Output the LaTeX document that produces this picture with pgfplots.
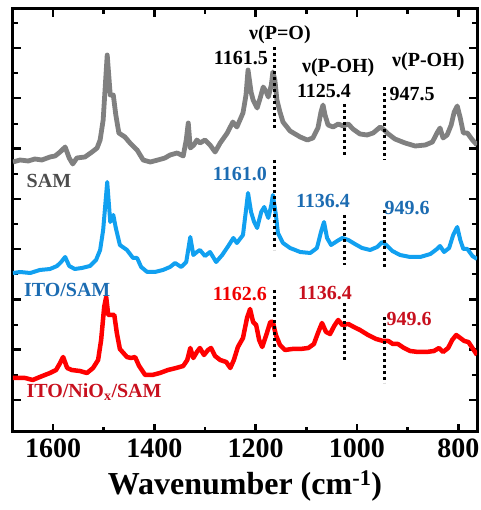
\documentclass[border=0pt]{standalone}
\usepackage{fontspec}
\setmainfont{Liberation Serif}
\usepackage{pgfplots}
\pgfplotsset{compat=1.18}

\definecolor{samgray}{RGB}{128,128,128}
\definecolor{itoblue}{RGB}{17,160,240}
\definecolor{nired}{RGB}{255,0,0}
\definecolor{samtext}{RGB}{77,77,77}
\definecolor{bluetext}{RGB}{28,108,178}
\definecolor{redtext}{RGB}{240,0,0}
\definecolor{darkred}{RGB}{200,16,30}

\begin{document}
\begin{tikzpicture}
% annotation fonts
\newcommand\lab{\fontsize{20}{24}\selectfont\bfseries}
\begin{axis}[
    at={(0,0)}, anchor=south west,
    scale only axis,
    width=464pt, height=423pt,
    x dir=reverse,
    xmin=763, xmax=1679,
    ymin=0, ymax=423,
    xtick={800,1000,...,1600},
    minor xtick={900,1100,1300,1500},
    ytick={32,82.3,...,400},
    minor ytick={57,107,158,208,258,308,359,409},
    yticklabels={},
    xtick pos=both, ytick pos=both,
    tick align=inside,
    major tick length=8pt, minor tick length=5pt,
    every tick/.style={black, line width=2.5pt},
    axis line style={line width=3pt},
    tick label style={font=\fontsize{28}{32}\selectfont\bfseries},
    xticklabel style={yshift=-3pt},
    /pgf/number format/assume math mode=true,
    /pgf/number format/1000 sep={},
    xlabel={Wavenumber (cm\textsuperscript{-1})},
    xlabel style={font=\fontsize{32}{36}\selectfont\bfseries, yshift=-6pt},
    no markers,
]
% SAM
\addplot[samgray, line width=4.8pt, line join=round] coordinates {
(1679,270) (1665,272) (1649,271) (1636,273) (1622,272) (1606,275) (1596,276)
(1586,280) (1576,285) (1568,274) (1561,268) (1553,274) (1537,275) (1523,280)
(1513,284) (1507,292) (1501,312) (1493,377) (1487,337) (1481,337) (1476,317)
(1470,299) (1458,295) (1448,289) (1434,282) (1422,272) (1408,270) (1393,272)
(1379,274) (1369,277) (1355,279) (1343,276) (1337,292) (1333,309) (1329,284)
(1322,287) (1316,292) (1310,289) (1300,292) (1290,287) (1280,280) (1270,289)
(1256,299) (1245,310) (1237,305) (1225,319) (1219,337) (1215,362) (1209,340)
(1205,332) (1197,324) (1191,334) (1185,345) (1179,340) (1175,335) (1169,347)
(1166,360) (1162,352) (1158,332) (1152,320) (1146,310) (1132,301) (1112,295)
(1098,292) (1087,294) (1077,304) (1071,320) (1067,327) (1063,317) (1057,307)
(1047,305) (1037,308) (1027,306) (1017,308) (1008,303) (994,298) (980,297)
(968,299) (954,305) (946,302) (938,298) (925,293) (905,289) (885,286)
(865,287) (851,290) (842,299) (836,304) (830,294) (822,297) (814,307)
(808,320) (802,326) (796,314) (790,299) (782,299) (772,292) (763,287)
};
% ITO/SAM
\addplot[itoblue, line width=4pt, line join=round] coordinates {
(1679,159) (1665,160) (1645,159) (1626,162) (1606,163) (1592,166) (1584,170)
(1576,175) (1568,166) (1557,163) (1543,164) (1527,166) (1515,172) (1507,182)
(1501,202) (1493,250) (1487,210) (1481,217) (1476,204) (1468,187) (1454,182)
(1442,174) (1434,174) (1426,165) (1414,160) (1399,160) (1383,162) (1369,165)
(1359,169) (1347,165) (1337,170) (1329,195) (1323,177) (1316,180) (1310,182)
(1300,176) (1290,180) (1278,170) (1266,177) (1254,186) (1244,194) (1237,189)
(1225,197) (1219,222) (1215,239) (1209,220) (1203,210) (1197,204) (1189,220)
(1183,225) (1175,214) (1169,227) (1166,237) (1160,217) (1156,199) (1146,189)
(1132,184) (1112,180) (1092,179) (1079,184) (1071,200) (1065,210) (1059,194)
(1051,187) (1039,191) (1029,194) (1017,192) (1004,188) (990,184) (974,182)
(960,185) (950,190) (942,187) (930,181) (915,177) (895,175) (875,175)
(855,178) (842,183) (836,186) (828,180) (818,184) (810,197) (802,205)
(796,192) (790,183) (782,183) (772,176) (763,173)
};
% ITO/NiOx/SAM
\addplot[nired, line width=4.5pt, line join=round] coordinates {
(1679,54) (1655,54) (1640,52) (1626,55) (1606,59) (1594,62) (1586,69)
(1580,75) (1572,64) (1563,62) (1547,61) (1533,59) (1521,64) (1511,72)
(1505,92) (1499,125) (1495,135) (1491,117) (1485,117) (1479,117) (1474,99)
(1468,83) (1454,75) (1446,74) (1438,75) (1430,66) (1418,57) (1404,57)
(1389,59) (1373,62) (1357,64) (1343,66) (1335,72) (1329,84) (1323,74)
(1316,80) (1310,84) (1302,77) (1294,82) (1288,84) (1280,76) (1270,72)
(1258,70) (1250,64) (1243,72) (1235,85) (1225,94) (1217,114) (1211,123)
(1205,110) (1199,107) (1193,92) (1187,85) (1179,97) (1171,110) (1166,110)
(1160,97) (1152,87) (1142,82) (1128,83) (1112,83) (1096,84) (1085,88)
(1077,99) (1069,109) (1061,100) (1053,98) (1045,106) (1037,112) (1029,107)
(1017,108) (1006,105) (994,102) (978,97) (962,93) (948,91) (938,91)
(929,88) (919,88) (907,84) (895,81) (879,80) (863,80) (848,81)
(838,84) (830,80) (820,84) (812,92) (804,97) (796,94) (788,91)
(780,90) (772,84) (763,77)
};
% dotted markers
\pgfplotsset{dotline/.style={black, line width=3pt, dash pattern=on 3pt off 3pt}}
\addplot[dotline] coordinates {(1162,385) (1162,304)};
\addplot[dotline] coordinates {(1025,328) (1025,277)};
\addplot[dotline] coordinates {(946,345) (946,272)};
\addplot[dotline] coordinates {(1162,272) (1162,182)};
\addplot[dotline] coordinates {(1025,217) (1025,167)};
\addplot[dotline] coordinates {(946,222) (946,164)};
\addplot[dotline] coordinates {(1162,142) (1162,54)};
\addplot[dotline] coordinates {(1025,129) (1025,70)};
\addplot[dotline] coordinates {(946,115) (946,49)};

% labels
\node[font=\lab] at (axis cs:1152,397) {ν(P=O)};
\node[font=\lab] at (axis cs:1229,374) {1161.5};
\node[font=\lab] at (axis cs:1037,364) {ν(P-OH)};
\node[font=\lab] at (axis cs:1065,341) {1125.4};
\node[font=\lab] at (axis cs:859,370) {ν(P-OH)};
\node[font=\lab] at (axis cs:891,338) {947.5};
\node[font=\lab, text=samtext] at (axis cs:1608,251) {SAM};
\node[font=\lab, text=bluetext] at (axis cs:1231,258) {1161.0};
\node[font=\lab, text=bluetext] at (axis cs:1067,231) {1136.4};
\node[font=\lab, text=bluetext] at (axis cs:901,224) {949.6};
\node[font=\lab, text=bluetext] at (axis cs:1572,142) {ITO/SAM};
\node[font=\lab, text=redtext] at (axis cs:1231,138) {1162.6};
\node[font=\lab, text=darkred] at (axis cs:1063,139) {1136.4};
\node[font=\lab, text=darkred] at (axis cs:897,113) {949.6};
\node[font=\lab, text=darkred] at (axis cs:1519,40) {ITO/NiO\textsubscript{x}/SAM};
\end{axis}
\pgfresetboundingbox
\path[use as bounding box] (-13pt,-78pt) rectangle (467pt,432pt);
\end{tikzpicture}
\end{document}
